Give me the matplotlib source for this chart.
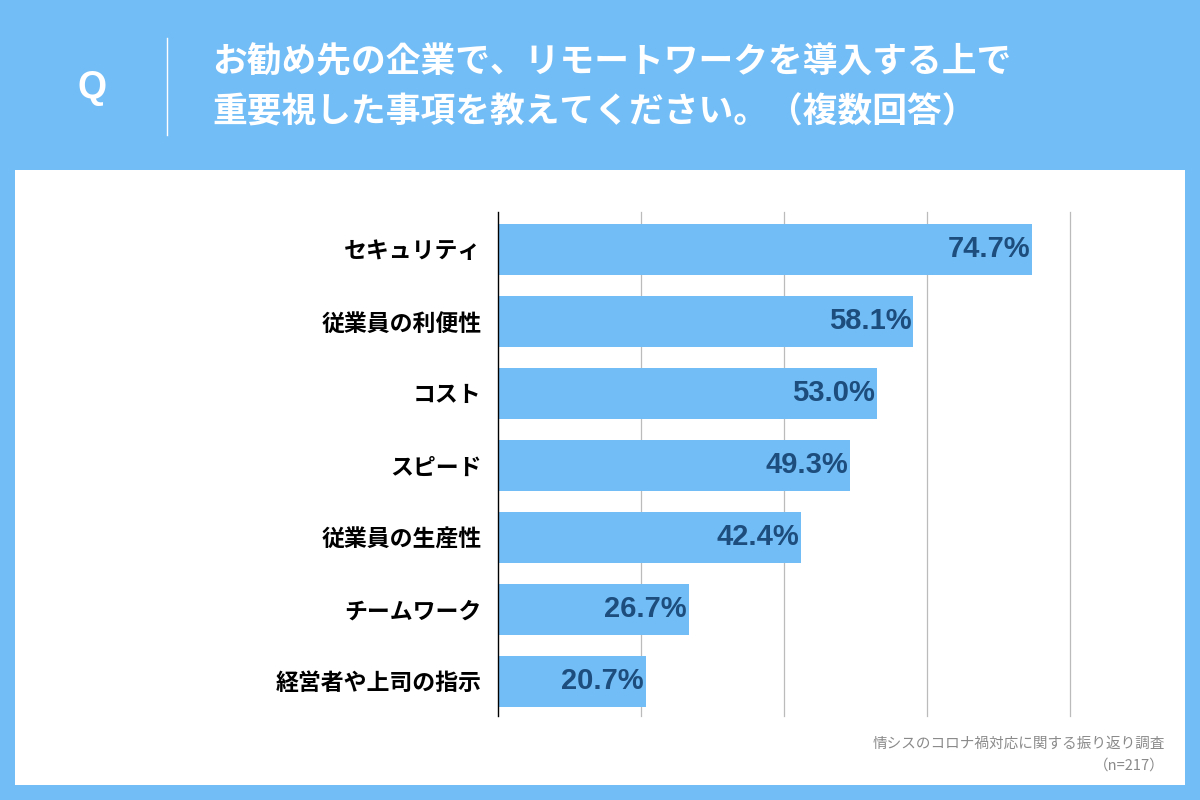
import matplotlib.pyplot as plt
from matplotlib.patches import Rectangle
from matplotlib.lines import Line2D

plt.rcParams['font.family'] = ['Noto Sans CJK JP', 'DejaVu Sans']

categories = ["セキュリティ", "従業員の利便性", "コスト", "スピード",
              "従業員の生産性", "チームワーク", "経営者や上司の指示"]
values = [74.7, 58.1, 53.0, 49.3, 42.4, 26.7, 20.7]
title_lines = ["お勧め先の企業で、リモートワークを導入する上で",
               "重要視した事項を教えてください。（複数回答）"]
source = "情シスのコロナ禍対応に関する振り返り調査"
sample = "（n=217）"

bg = "#73bdf6"
bar_color = "#73bdf6"
label_color = "#1d4d7c"

fig = plt.figure(figsize=(12, 8), dpi=100)
fig.patch.set_facecolor(bg)

# white panel
fig.patches.append(Rectangle((15 / 1200, 1 - 785 / 800), 1170 / 1200, 615 / 800,
                             transform=fig.transFigure, facecolor="white",
                             edgecolor="none", zorder=-10))

# header
fig.text(92 / 1200, 1 - 88 / 800, "Q", color="white", fontsize=27,
         fontweight="bold", ha="center", va="center", family="Liberation Sans")
fig.lines.append(Line2D([167 / 1200, 167 / 1200], [1 - 38 / 800, 1 - 135 / 800],
                        transform=fig.transFigure, color="white", lw=1))
fig.text(212 / 1200, 1 - 62 / 800, title_lines[0], color="white", fontsize=25,
         fontweight="bold", ha="left", va="center")
fig.text(212 / 1200, 1 - 112 / 800, title_lines[1], color="white", fontsize=25,
         fontweight="bold", ha="left", va="center")

ax = fig.add_axes([498 / 1200, 1 - 716 / 800, 572 / 1200, 504 / 800])
ax.set_facecolor("none")
y = list(range(len(categories)))
ax.barh(y, values, height=0.7, color=bar_color, zorder=2)
ax.set_ylim(len(categories) - 0.52, -0.52)
ax.set_xlim(0, 80)
for v in [20, 40, 60, 80]:
    ax.axvline(v, color="#bbbbbb", lw=0.9, zorder=1, clip_on=False)
for s in ["top", "right", "bottom"]:
    ax.spines[s].set_visible(False)
ax.spines["left"].set_color("black")
ax.spines["left"].set_linewidth(1)
ax.spines["left"].set_zorder(3)
ax.set_xticks([])
ax.set_yticks(y)
ax.set_yticklabels(categories, fontsize=16.5, fontweight="bold")
ax.tick_params(axis="y", length=0, pad=12)

for yi, v in zip(y, values):
    ax.text(v - 0.3, yi, f"{v:.1f}%", ha="right", va="center", fontsize=21,
            fontweight="bold", color=label_color, family="Liberation Sans", zorder=3)

fig.text(1165 / 1200, 1 - 744 / 800, source, color="#8a8a8a", fontsize=10.5,
         ha="right", va="center")
fig.text(1165 / 1200, 1 - 766 / 800, sample, color="#8a8a8a", fontsize=10.5,
         ha="right", va="center")

fig.savefig("out.png", dpi=100, facecolor=fig.get_facecolor())
